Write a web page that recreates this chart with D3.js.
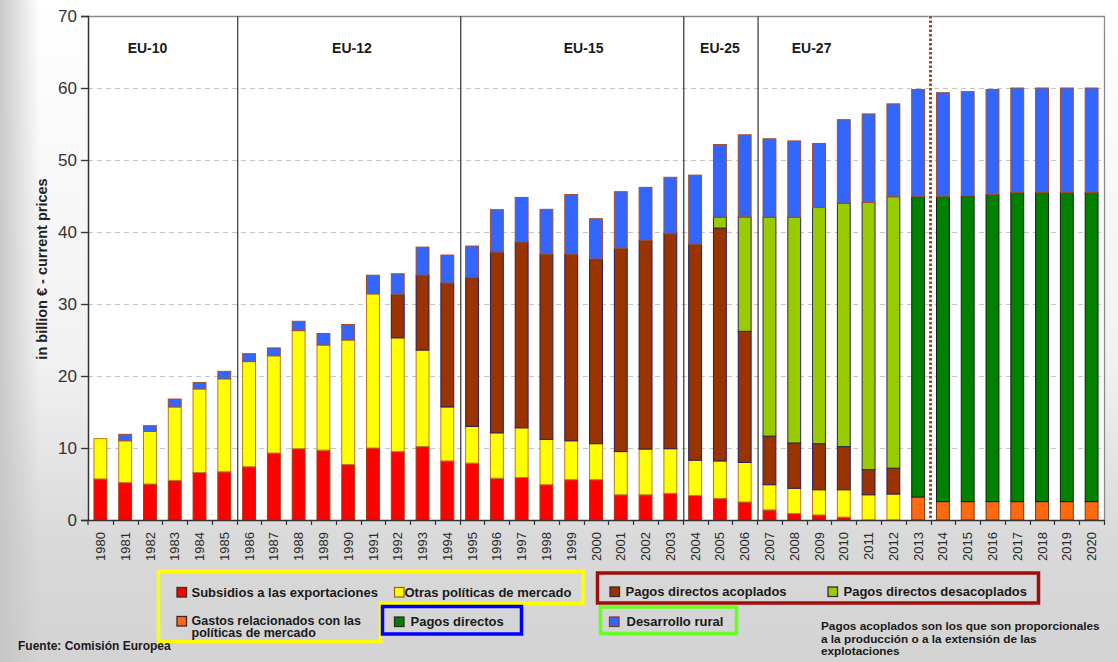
<!DOCTYPE html>
<html>
<head>
<meta charset="utf-8">
<script src="https://cdn.jsdelivr.net/npm/d3@7"></script>
<style>
  html, body { margin: 0; padding: 0; background: #ffffff; }
  svg { display: block; font-family: "Liberation Sans", Arial, sans-serif; }
</style>
</head>
<body>
<svg id="chart" width="1118" height="662"></svg>
<script>
// ---------------- DATA (billion €, current prices; segment heights) ----------------
const years = [1980,1981,1982,1983,1984,1985,1986,1987,1988,1989,1990,1991,1992,1993,1994,1995,1996,1997,1998,1999,2000,2001,2002,2003,2004,2005,2006,2007,2008,2009,2010,2011,2012,2013,2014,2015,2016,2017,2018,2019,2020];

const subsidiosExport = [5.7,5.2,5.0,5.5,6.6,6.7,7.4,9.3,9.9,9.7,7.7,10.0,9.5,10.2,8.2,7.9,5.8,5.9,4.9,5.6,5.6,3.5,3.5,3.7,3.4,3.0,2.5,1.4,0.9,0.7,0.4,0,0,0,0,0,0,0,0,0,0];
const otrasMercado    = [5.6,5.8,7.3,10.2,11.6,12.9,14.6,13.5,16.4,14.6,17.3,21.4,15.8,13.4,7.5,5.1,6.3,6.9,6.3,5.4,5.0,6.0,6.35,6.2,4.9,5.2,5.5,3.5,3.5,3.5,3.8,3.5,3.6,0,0,0,0,0,0,0,0];
const gastosMercado   = [0,0,0,0,0,0,0,0,0,0,0,0,0,0,0,0,0,0,0,0,0,0,0,0,0,0,0,0,0,0,0,0,0,3.2,2.55,2.55,2.55,2.55,2.55,2.55,2.55];
const pagosAcoplados  = [0,0,0,0,0,0,0,0,0,0,0,0,6.0,10.4,17.2,20.65,25.1,25.8,25.7,25.9,25.65,28.2,28.95,29.9,30.0,32.35,18.2,6.75,6.3,6.4,6.0,3.5,3.6,0,0,0,0,0,0,0,0];
const pagosDesacoplados = [0,0,0,0,0,0,0,0,0,0,0,0,0,0,0,0,0,0,0,0,0,0,0,0,0,1.5,15.9,30.4,31.35,32.8,33.8,37.1,37.7,0,0,0,0,0,0,0,0];
const pagosDirectos   = [0,0,0,0,0,0,0,0,0,0,0,0,0,0,0,0,0,0,0,0,0,0,0,0,0,0,0,0,0,0,0,0,0,41.7,42.35,42.45,42.65,42.95,42.95,42.95,42.95];
const desarrolloRural = [0,0.9,0.8,1.1,0.9,1.05,1.1,1.1,1.3,1.6,2.15,2.6,2.9,3.9,3.9,4.4,5.9,6.2,6.25,8.3,5.6,7.9,7.4,7.8,9.6,10.1,11.4,10.9,10.6,8.9,11.6,12.3,12.9,14.9,14.45,14.5,14.6,14.5,14.5,14.5,14.5];

const yTicks = [0,10,20,30,40,50,60,70];
const seriesLabels = ["Subsidios a las exportaciones","Otras políticas de mercado","Gastos relacionados con las políticas de mercado","Pagos directos acoplados","Pagos directos desacoplados","Pagos directos","Desarrollo rural"];
const regionLabels = ["EU-10","EU-12","EU-15","EU-25","EU-27"];
const regionAnchorYear = [1981.9,1990.15,1999.5,2005,2008.7];
const regionEndYears = [1985,1994,2003,2006];   // last year before each enlargement line
const forecastAfterYear = 2013;
const yAxisTitle = "in billion € - current prices";
const sourceText = "Fuente: Comisión Europea";
const noteLines = ["Pagos acoplados son los que son proporcionales","a la producción o a la extensión de las","explotaciones"];

// ---------------- STYLE ----------------
const keys = ["subs","otras","gastos","acop","desac","direct","rural"];
const fills   = {subs:"#ff0000", otras:"#ffff00", gastos:"#ff6a10", acop:"#993300", desac:"#99cc00", direct:"#008000", rural:"#3366ff"};
const strokes = {subs:"#a33a10", otras:"#c07a10", gastos:"#7a3a10", acop:"#2a1a5a", desac:"#2a2a50", direct:"#10200f", rural:"#a0502a"};

const rows = years.map((yr,i)=>({year:yr, subs:subsidiosExport[i], otras:otrasMercado[i], gastos:gastosMercado[i],
  acop:pagosAcoplados[i], desac:pagosDesacoplados[i], direct:pagosDirectos[i], rural:desarrolloRural[i]}));

const svg = d3.select("#chart");
const W = 1118, H = 662;
const L = 88, R = 1104, T = 16, B = 520;

// background
const defs = svg.append("defs");
const gv = defs.append("linearGradient").attr("id","bgv").attr("x1",0).attr("y1",0).attr("x2",0).attr("y2",1);
gv.append("stop").attr("offset","0%").attr("stop-color","#ffffff");
gv.append("stop").attr("offset","55%").attr("stop-color","#f1f1f1");
gv.append("stop").attr("offset","82%").attr("stop-color","#d9d9d9");
gv.append("stop").attr("offset","100%").attr("stop-color","#d3d3d3");
const gh = defs.append("linearGradient").attr("id","bgh").attr("x1",0).attr("y1",0).attr("x2",1).attr("y2",0);
gh.append("stop").attr("offset","0%").attr("stop-color","#c4c4c4").attr("stop-opacity",0.9);
gh.append("stop").attr("offset","100%").attr("stop-color","#c4c4c4").attr("stop-opacity",0);
svg.append("rect").attr("width",W).attr("height",H).attr("fill","url(#bgv)");
svg.append("rect").attr("width",40).attr("height",H).attr("fill","url(#bgh)");

// scales
const x = d3.scaleBand().domain(years).range([L,R]).paddingInner(0.44).paddingOuter(0.22);
const y = d3.scaleLinear().domain([0,70]).range([B,T]);
const step = x.step(), bw = x.bandwidth();
const boundary = yr => x(yr) + bw + (step - bw)/2;
const xAt = yrFloat => x(years[0]) + bw/2 + (yrFloat - years[0]) * step;

// plot area
svg.append("rect").attr("x",L).attr("y",T).attr("width",R-L).attr("height",B-T).attr("fill","#ffffff");

// gridlines
svg.append("g").selectAll("line").data(yTicks.filter(t=>t>0 && t<70)).join("line")
  .attr("x1",L).attr("x2",R).attr("y1",d=>Math.round(y(d))+0.5).attr("y2",d=>Math.round(y(d))+0.5)
  .attr("stroke","#c4c4c4").attr("stroke-width",1).attr("stroke-dasharray","5,4");

// frame top & right
svg.append("path").attr("d",`M${L},${T+0.5}H${R+0.5}V${B}`).attr("fill","none").attr("stroke","#8a8a8a").attr("stroke-width",1.3);

// region separators
svg.append("g").selectAll("line").data(regionEndYears).join("line")
  .attr("x1",d=>boundary(d)+1).attr("x2",d=>boundary(d)+1).attr("y1",T).attr("y2",B)
  .attr("stroke","#505050").attr("stroke-width",1.4);

// region labels
svg.append("g").selectAll("text").data(regionLabels).join("text")
  .attr("x",(d,i)=>xAt(regionAnchorYear[i])).attr("y",53).attr("text-anchor","middle")
  .attr("font-size","14px").attr("font-weight","bold").attr("fill","#1a1a1a").text(d=>d);

// bars
const stacked = d3.stack().keys(keys)(rows);
const layers = svg.append("g").selectAll("g").data(stacked).join("g")
  .attr("fill",d=>fills[d.key]).attr("stroke",d=>strokes[d.key]).attr("stroke-width",1);
layers.selectAll("rect").data(d=>d.filter(p=>p[1]-p[0]>0.001)).join("rect")
  .attr("x",d=>x(d.data.year)+0.5).attr("width",bw-1)
  .attr("y",d=>y(d[1])).attr("height",d=>y(d[0])-y(d[1]));

// forecast dotted line
svg.append("line").attr("x1",boundary(forecastAfterYear)).attr("x2",boundary(forecastAfterYear))
  .attr("y1",T).attr("y2",B).attr("stroke","#ffffff").attr("stroke-width",4);
svg.append("line").attr("x1",boundary(forecastAfterYear)).attr("x2",boundary(forecastAfterYear))
  .attr("y1",T).attr("y2",B).attr("stroke","#9a4a2a").attr("stroke-width",3).attr("stroke-dasharray","2.5,2");

// y axis
const yAxis = svg.append("g").attr("transform",`translate(${L},0)`)
  .call(d3.axisLeft(y).tickValues(yTicks).tickSize(7).tickPadding(4).tickFormat(d3.format("d")));
yAxis.select(".domain").attr("stroke","#333").attr("stroke-width",1.5);
yAxis.selectAll(".tick line").attr("stroke","#333").attr("stroke-width",1.3);
yAxis.selectAll("text").attr("font-size","17px").attr("fill","#333").attr("font-family","'Liberation Sans', Arial, sans-serif");

// x axis
const xAxis = svg.append("g").attr("transform",`translate(0,${B})`)
  .call(d3.axisBottom(x).tickSize(0).tickSizeOuter(0));
xAxis.select(".domain").attr("stroke","#333").attr("stroke-width",1.5);
xAxis.selectAll("text").attr("transform","rotate(-90)").attr("text-anchor","end")
  .attr("x",-12).attr("y",0).attr("dy","0.35em")
  .attr("font-size","13px").attr("fill","#2a2a2a").attr("font-family","'Liberation Sans', Arial, sans-serif");
// ticks between bars
const bounds = [years[0]-1].concat(years);
svg.append("g").selectAll("line").data(bounds).join("line")
  .attr("x1",(d,i)=>i===0?L:Math.round(boundary(d))+0.5).attr("x2",(d,i)=>i===0?L:Math.round(boundary(d))+0.5)
  .attr("y1",B).attr("y2",B+5).attr("stroke","#333").attr("stroke-width",1.2);

// y axis title
svg.append("text").attr("transform","translate(47,269) rotate(-90)").attr("text-anchor","middle")
  .attr("font-size","14.5px").attr("font-weight","bold").attr("fill","#222").text(yAxisTitle);

// ---------------- LEGEND ----------------
const lg = svg.append("g").attr("font-size","13px").attr("font-weight","bold").attr("fill","#1a1a1a");
// group frames
lg.append("path").attr("d","M158.5,571.5H583V603.5H380.5V641.5H158.5Z").attr("fill","none").attr("stroke","#ffff00").attr("stroke-width",3.5);
lg.append("rect").attr("x",382.5).attr("y",606.5).attr("width",139).attr("height",27.5).attr("fill","none").attr("stroke","#0000ff").attr("stroke-width",3.5);
lg.append("rect").attr("x",597.5).attr("y",573).attr("width",441).attr("height",30).attr("fill","none").attr("stroke","#a00d0d").attr("stroke-width",3.5);
lg.append("rect").attr("x",600.5).attr("y",607).attr("width",136).attr("height",26.5).attr("fill","none").attr("stroke","#66ff22").attr("stroke-width",3.5);

const legendPos = {
  subs:  {sx:177, sy:587.5, tx:191.5, ty:597},
  otras: {sx:394.5, sy:587.5, tx:404.5, ty:597},
  gastos:{sx:177, sy:616.5, tx:191.5, ty:624.5},
  direct:{sx:394.5, sy:617, tx:410.5, ty:626},
  acop:  {sx:610, sy:587, tx:625.5, ty:596},
  desac: {sx:828, sy:587, tx:843.5, ty:596},
  rural: {sx:609.5, sy:617, tx:626.5, ty:626}
};
const legendKeys = keys.slice();
const li = lg.selectAll("g.item").data(legendKeys).join("g").attr("class","item");
li.append("rect").attr("x",k=>legendPos[k].sx).attr("y",k=>legendPos[k].sy).attr("width",9.5).attr("height",9.5)
  .attr("fill",k=>fills[k]).attr("stroke",k=>k==="rural"?"#7a3a3a":(k==="otras"?"#a06a10":"#3a2a2a")).attr("stroke-width",1.3);
li.each(function(k){
  const idx = keys.indexOf(k);
  const t = d3.select(this).append("text").attr("x",legendPos[k].tx).attr("y",legendPos[k].ty);
  if (k==="gastos") {
    t.attr("font-size","12.5px");
    t.append("tspan").attr("x",legendPos[k].tx).text("Gastos relacionados con las");
    t.append("tspan").attr("x",legendPos[k].tx).attr("dy",12.5).text("políticas de mercado");
  } else {
    t.text(seriesLabels[idx]);
  }
});

// note
svg.append("text").attr("font-size","11.8px").attr("font-weight","bold").attr("fill","#1a1a1a")
  .selectAll("tspan").data(noteLines).join("tspan")
  .attr("x",821).attr("y",(d,i)=>630+i*12.5).text(d=>d);

// source
svg.append("text").attr("x",18).attr("y",650).attr("font-size","12px").attr("font-weight","bold").attr("fill","#1a1a1a").text(sourceText);
</script>
</body>
</html>
